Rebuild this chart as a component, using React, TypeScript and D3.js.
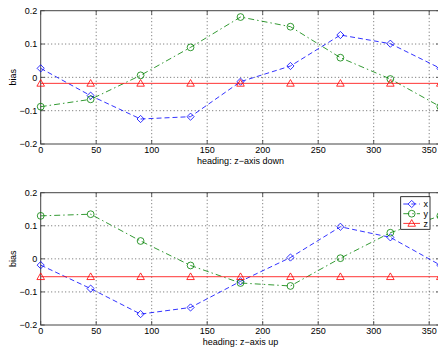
import React from "react";
import * as d3 from "d3";

const headings = [0, 45, 90, 135, 180, 225, 270, 315, 360];
const downX = [0.027, -0.055, -0.125, -0.118, -0.013, 0.034, 0.127, 0.101, 0.027];
const downY = [-0.088, -0.066, 0.006, 0.09, 0.181, 0.152, 0.059, -0.005, -0.088];
const downZ = [-0.018, -0.018, -0.018, -0.018, -0.018, -0.018, -0.018, -0.018, -0.018];
const upX = [-0.019, -0.09, -0.167, -0.147, -0.068, 0.004, 0.097, 0.065, -0.019];
const upY = [0.13, 0.135, 0.054, -0.02, -0.073, -0.082, 0.002, 0.079, 0.13];
const upZ = [-0.054, -0.054, -0.054, -0.054, -0.054, -0.054, -0.054, -0.054, -0.054];
const xTicks = [0, 50, 100, 150, 200, 250, 300, 350];
const yTicks = [-0.2, -0.1, 0, 0.1, 0.2];
const yTickLabels = ["\u22120.2", "\u22120.1", "0", "0.1", "0.2"];
const seriesNames = ["x", "y", "z"];
const titles = ["heading: z\u2212axis down", "heading: z\u2212axis up"];

const COLORS = ["#0000ff", "#008000", "#ff0000"];
const DASH = ["5,3", "6,3,1.5,3", ""];
const FONT = "Liberation Sans, Arial, sans-serif";
const FS = 9;

function Marker({ kind, x, y, color }: { kind: number; x: number; y: number; color: string }) {
  if (kind === 0) {
    const s = 3.6;
    return <path d={`M${x},${y - s}L${x + s},${y}L${x},${y + s}L${x - s},${y}Z`} fill="none" stroke={color} strokeWidth={0.8} />;
  }
  if (kind === 1) return <circle cx={x} cy={y} r={3.4} fill="none" stroke={color} strokeWidth={0.8} />;
  const s = 3.8;
  return <path d={`M${x},${y - s}L${x + s},${y + s * 0.75}L${x - s},${y + s * 0.75}Z`} fill="none" stroke={color} strokeWidth={0.8} />;
}

function Panel({ top, bottom, series, title, legend }: { top: number; bottom: number; series: number[][]; title: string; legend: boolean }) {
  const left = 40.7;
  const right = 440.3;
  const x = d3.scaleLinear().domain([0, 360]).range([left, right]);
  const y = d3.scaleLinear().domain([-0.2, 0.2]).range([bottom, top]);
  const line = d3.line<number>().x((_, i) => x(headings[i])).y((d) => y(d));
  return (
    <g>
      {xTicks.filter((t) => t > 0).map((t) => (
        <line key={"gx" + t} x1={x(t)} x2={x(t)} y1={top} y2={bottom} stroke="#000" strokeWidth={0.6} strokeDasharray="1,2.5" />
      ))}
      {yTicks.filter((t) => t > -0.2 && t < 0.2).map((t) => (
        <line key={"gy" + t} x1={left} x2={right} y1={y(t)} y2={y(t)} stroke="#000" strokeWidth={0.6} strokeDasharray="1,2.5" />
      ))}
      {xTicks.map((t) => (
        <g key={"tx" + t}>
          <line x1={x(t)} x2={x(t)} y1={bottom} y2={bottom - 4} stroke="#333" strokeWidth={0.8} />
          <line x1={x(t)} x2={x(t)} y1={top} y2={top + 4} stroke="#333" strokeWidth={0.8} />
          <text x={x(t)} y={bottom + 8.8} fontSize={FS} fontFamily={FONT} textAnchor="middle" fill="#000">{t}</text>
        </g>
      ))}
      {yTicks.map((t, i) => (
        <g key={"ty" + t}>
          <line x1={left} x2={left + 4} y1={y(t)} y2={y(t)} stroke="#333" strokeWidth={0.8} />
          <line x1={right} x2={right - 4} y1={y(t)} y2={y(t)} stroke="#333" strokeWidth={0.8} />
          <text x={left - 3.5} y={y(t) + 3.3} fontSize={FS} fontFamily={FONT} textAnchor="end" fill="#000">{yTickLabels[i]}</text>
        </g>
      ))}
      <rect x={left} y={top} width={right - left} height={bottom - top} fill="none" stroke="#444" strokeWidth={1} />
      {series.map((s, k) => (
        <g key={"s" + k}>
          <path d={line(s) || ""} fill="none" stroke={COLORS[k]} strokeWidth={0.8} strokeDasharray={DASH[k] || undefined} />
          {s.map((v, i) => (
            <Marker key={i} kind={k} x={x(headings[i])} y={y(v)} color={COLORS[k]} />
          ))}
        </g>
      ))}
      <text x={(left + right) / 2} y={bottom + 19.5} fontSize={FS} fontFamily={FONT} textAnchor="middle" fill="#000">{title}</text>
      <text transform={`translate(16,${(top + bottom) / 2}) rotate(-90)`} fontSize={FS} fontFamily={FONT} textAnchor="middle" fill="#000">bias</text>
      {legend && (
        <g>
          <rect x={400.7} y={196.7} width={29.3} height={32.6} fill="#fff" stroke="#000" strokeWidth={0.8} />
          {seriesNames.map((n, k) => {
            const ly = 204 + k * 9.7;
            return (
              <g key={n}>
                <line x1={403.3} x2={420} y1={ly} y2={ly} stroke={COLORS[k]} strokeWidth={0.8} strokeDasharray={DASH[k] || undefined} />
                <Marker kind={k} x={411.7} y={ly} color={COLORS[k]} />
                <text x={423.5} y={ly + 3.2} fontSize={FS} fontFamily={FONT} fill="#000">{n}</text>
              </g>
            );
          })}
        </g>
      )}
    </g>
  );
}

export default function App() {
  return (
    <svg width={438} height={352} style={{ position: "fixed", left: 0, top: 0, background: "#fff" }}>
      <rect x={0} y={0} width={438} height={352} fill="#fff" />
      <Panel top={10.7} bottom={144} series={[downX, downY, downZ]} title={titles[0]} legend={false} />
      <Panel top={192.7} bottom={325} series={[upX, upY, upZ]} title={titles[1]} legend={true} />
    </svg>
  );
}
